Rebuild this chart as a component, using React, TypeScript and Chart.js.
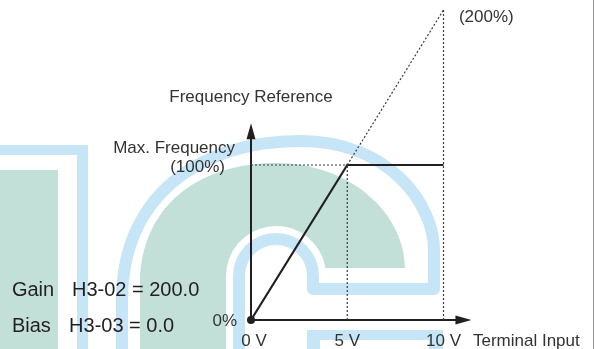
import React, { useEffect, useRef } from "react";
import { Chart, registerables } from "chart.js";

Chart.register(...registerables);

// ---- data ----
const inputVolts = [0, 5, 10];
const outputPercent = [0, 100, 100];
const gainVolts = [5, 10];
const gainPercent = [100, 200];
const xTickValues = [0, 5, 10];
const xTickLabels = ["0 V", "5 V", "10 V"];
const maxFreqPercent = 100;
const gainTopPercent = 200;
const xAxisEnd = 11.45;
const yAxisEnd = 127;

const yAxisTitle = "Frequency Reference";
const xAxisTitle = "Terminal Input";
const maxFreqLabel = "Max. Frequency";
const maxFreqPctLabel = "(100%)";
const gainPctLabel = "(200%)";
const zeroPctLabel = "0%";
const paramNames = ["Gain", "Bias"];
const paramValues = ["H3-02 = 200.0", "H3-03 = 0.0"];

const FONT = '"Liberation Sans", Arial, sans-serif';
const INK = "#231f20";
const DOT = "#3a3a3a";
const WM_BLUE = "rgb(198,229,246)";
const WM_GREEN = "rgb(195,224,216)";

const toPts = (xs: number[], ys: number[]) => xs.map((x, i) => ({ x, y: ys[i] }));

const watermarkPlugin = {
  id: "watermark",
  beforeDraw(chart: any) {
    const ctx = chart.ctx;
    ctx.save();
    ctx.fillStyle = "#ffffff";
    ctx.fillRect(0, 0, chart.width, chart.height);
    // left green block + blue L
    ctx.fillStyle = WM_GREEN;
    ctx.fillRect(0, 170, 58, 179);
    ctx.fillStyle = WM_BLUE;
    ctx.fillRect(0, 145, 88, 10);
    ctx.fillRect(77, 145, 11, 204);
    // green arch
    ctx.fillStyle = WM_GREEN;
    ctx.beginPath();
    ctx.moveTo(140, 349);
    ctx.lineTo(140, 285);
    ctx.bezierCurveTo(140, 205, 200, 163, 276, 163);
    ctx.bezierCurveTo(352, 163, 405, 215, 405, 268);
    ctx.lineTo(325, 268);
    ctx.arc(276, 276, 50, -0.16, Math.PI, true);
    ctx.lineTo(226, 349);
    ctx.closePath();
    ctx.fill();
    // blue band
    ctx.strokeStyle = WM_BLUE;
    ctx.lineWidth = 12;
    ctx.lineJoin = "round";
    ctx.beginPath();
    ctx.moveTo(122, 349);
    ctx.lineTo(122, 300);
    ctx.bezierCurveTo(122, 200, 195, 141, 300, 141);
    ctx.bezierCurveTo(390, 141, 434, 205, 434, 250);
    ctx.lineTo(434, 289);
    ctx.lineTo(313, 289);
    ctx.lineTo(313, 276);
    ctx.arc(276, 276, 37, 0, Math.PI, true);
    ctx.lineTo(239, 349);
    ctx.stroke();
    // bottom outline
    ctx.fillStyle = WM_BLUE;
    ctx.fillRect(307, 330, 136, 10);
    ctx.fillRect(307, 330, 13, 19);
    ctx.fillRect(429, 330, 14, 19);
    // right border
    ctx.strokeStyle = "#9a9a9a";
    ctx.lineWidth = 1;
    ctx.beginPath();
    ctx.moveTo(593.5, 0);
    ctx.lineTo(593.5, 349);
    ctx.stroke();
    ctx.restore();
  },
};

const overlayPlugin = {
  id: "overlay",
  afterDatasetsDraw(chart: any) {
    const ctx = chart.ctx;
    const xs = chart.scales.x;
    const ys = chart.scales.y;
    const px = (v: number) => xs.getPixelForValue(v);
    const py = (v: number) => ys.getPixelForValue(v);
    ctx.save();
    ctx.fillStyle = INK;
    // arrowheads
    const xt = px(xAxisEnd), y0 = py(0);
    ctx.beginPath();
    ctx.moveTo(xt, y0);
    ctx.lineTo(xt - 16, y0 - 4.5);
    ctx.lineTo(xt - 16, y0 + 4.5);
    ctx.closePath();
    ctx.fill();
    const x0 = px(0), yt = py(yAxisEnd);
    ctx.beginPath();
    ctx.moveTo(x0, yt);
    ctx.lineTo(x0 - 4.5, yt + 16);
    ctx.lineTo(x0 + 4.5, yt + 16);
    ctx.closePath();
    ctx.fill();
    // origin dot
    ctx.beginPath();
    ctx.arc(x0, y0, 4, 0, Math.PI * 2);
    ctx.fill();

    const text = (s: string, x: number, y: number, align: string, size: number, color = "#333") => {
      ctx.font = `${size}px ${FONT}`;
      ctx.fillStyle = color;
      ctx.textAlign = align;
      ctx.textBaseline = "alphabetic";
      ctx.fillText(s, x, y);
    };
    text(yAxisTitle, px(0), py(140.6), "center", 17);
    text(maxFreqLabel, px(-0.83), py(107.5), "right", 17);
    text(maxFreqPctLabel, px(-1.35), py(95.5), "right", 17);
    text(gainPctLabel, px(10.8), py(192), "left", 17);
    text(zeroPctLabel, px(-0.72), py(-3.9), "right", 17);
    xTickValues.forEach((v, i) => {
      text(xTickLabels[i], px(v) + (i === 0 ? 3 : 0), py(-16.5), "center", 17);
    });
    text(xAxisTitle, px(11.53), py(-16.5), "left", 17);
    paramNames.forEach((n, i) => {
      const yv = i === 0 ? 15.5 : -7.7;
      text(n, px(-12.42), py(yv), "left", 20, INK);
      text(paramValues[i], px(i === 0 ? -9.3 : -9.45), py(yv), "left", 20, INK);
    });
    ctx.restore();
  },
};

export default function App() {
  const ref = useRef<HTMLCanvasElement | null>(null);
  useEffect(() => {
    if (!ref.current) return;
    const dotted = { borderColor: DOT, borderWidth: 1.2, borderDash: [2, 2], pointRadius: 0, showLine: true, fill: false, clip: false };
    const chart = new Chart(ref.current, {
      type: "scatter",
      data: {
        datasets: [
          { ...dotted, data: toPts([0, gainVolts[0]], [maxFreqPercent, maxFreqPercent]) },
          { ...dotted, data: toPts([gainVolts[0], gainVolts[0]], [0, maxFreqPercent]) },
          { ...dotted, data: toPts([gainVolts[1], gainVolts[1]], [0, gainTopPercent]) },
          { ...dotted, data: toPts(gainVolts, gainPercent) },
          { borderColor: INK, borderWidth: 2, pointRadius: 0, showLine: true, fill: false, clip: false, data: toPts([0, xAxisEnd - 0.6], [0, 0]) },
          { borderColor: INK, borderWidth: 2, pointRadius: 0, showLine: true, fill: false, clip: false, data: toPts([0, 0], [0, yAxisEnd - 6]) },
          { borderColor: INK, borderWidth: 2.2, pointRadius: 0, showLine: true, fill: false, clip: false, data: toPts(inputVolts, outputPercent) },
        ],
      } as any,
      options: {
        animation: false,
        responsive: false,
        devicePixelRatio: 1,
        layout: { padding: { left: 251, right: 152.5, top: 10, bottom: 29 } },
        plugins: { legend: { display: false }, tooltip: { enabled: false } },
        scales: {
          x: { type: "linear", min: 0, max: 10, display: false },
          y: { type: "linear", min: 0, max: 200, display: false },
        },
      } as any,
      plugins: [watermarkPlugin, overlayPlugin],
    });
    return () => chart.destroy();
  }, []);
  return (
    <div style={{ position: "fixed", left: 0, top: 0, width: 596, height: 349 }}>
      <canvas ref={ref} width={596} height={349} style={{ display: "block" }} />
    </div>
  );
}
